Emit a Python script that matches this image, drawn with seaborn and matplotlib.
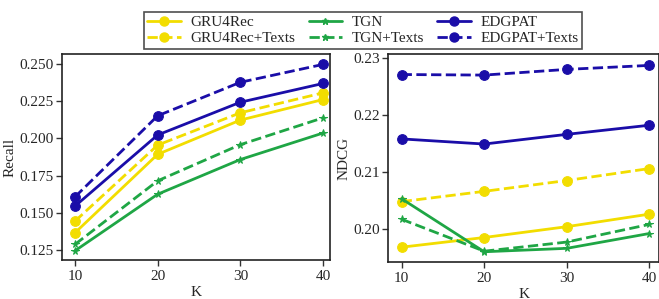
import matplotlib
matplotlib.use("Agg")
import matplotlib.pyplot as plt
import seaborn as sns
import pandas as pd
from matplotlib.lines import Line2D

sns.set_style("white")
plt.rcParams['font.family'] = ['Liberation Serif', 'DejaVu Serif']

K = [10, 20, 30, 40]
series_names = ["GRU4Rec", "GRU4Rec+Texts", "TGN", "TGN+Texts", "EDGPAT", "EDGPAT+Texts"]

recall_gru4rec = [0.1366, 0.1893, 0.2123, 0.2261]
recall_gru4rec_texts = [0.1444, 0.1955, 0.2172, 0.2306]
recall_tgn = [0.1245, 0.1625, 0.1858, 0.2036]
recall_tgn_texts = [0.1288, 0.1715, 0.1958, 0.2138]
recall_edgpat = [0.1545, 0.2023, 0.2243, 0.2369]
recall_edgpat_texts = [0.1607, 0.2152, 0.2377, 0.2497]

ndcg_gru4rec = [0.1968, 0.1985, 0.2004, 0.2026]
ndcg_gru4rec_texts = [0.2048, 0.2066, 0.2085, 0.2106]
ndcg_tgn = [0.2053, 0.1960, 0.1966, 0.1992]
ndcg_tgn_texts = [0.2017, 0.1961, 0.1977, 0.2008]
ndcg_edgpat = [0.2158, 0.2149, 0.2166, 0.2182]
ndcg_edgpat_texts = [0.2271, 0.2270, 0.2280, 0.2287]

recall_ticks = [0.125, 0.150, 0.175, 0.200, 0.225, 0.250]
ndcg_ticks = [0.20, 0.21, 0.22, 0.23]

recall = [recall_gru4rec, recall_gru4rec_texts, recall_tgn, recall_tgn_texts, recall_edgpat, recall_edgpat_texts]
ndcg = [ndcg_gru4rec, ndcg_gru4rec_texts, ndcg_tgn, ndcg_tgn_texts, ndcg_edgpat, ndcg_edgpat_texts]

YEL = "#f2dd00"
GRN = "#1fa645"
BLU = "#1a0da8"
colors = [YEL, YEL, GRN, GRN, BLU, BLU]
styles = ["-", "--", "-", "--", "-", "--"]
markers = ["o", "o", "*", "*", "o", "o"]
msizes = [7, 7, 5.5, 5.5, 7, 7]

fig = plt.figure(figsize=(6.59, 2.99), dpi=100)
ax1 = fig.add_axes([0.0941, 0.1304, 0.4067, 0.689])
ax2 = fig.add_axes([0.5888, 0.1237, 0.4115, 0.6957])

def draw(ax, data):
    for name, vals, c, ls, m, ms in zip(series_names, data, colors, styles, markers, msizes):
        df = pd.DataFrame({"K": K, "v": vals})
        sns.lineplot(data=df, x="K", y="v", ax=ax, color=c, linestyle=ls, marker=m,
                     markersize=ms, markeredgecolor=c, linewidth=2, legend=False,
                     dashes=False)
        ax.lines[-1].set_linestyle(ls)

draw(ax1, recall)
draw(ax2, ndcg)

ax1.set_xlim(8.43, 40.85)
ax1.set_ylim(0.1183, 0.2567)
ax1.set_yticks(recall_ticks)
ax1.set_yticklabels([f"{t:.3f}" for t in recall_ticks])
ax1.set_ylabel("Recall", fontsize=11, labelpad=2)

ax2.set_xlim(8.35, 41.2)
ax2.set_ylim(0.1942, 0.2307)
ax2.set_yticks(ndcg_ticks)
ax2.set_yticklabels([f"{t:.2f}" for t in ndcg_ticks])
ax2.set_ylabel("NDCG", fontsize=11, labelpad=2)

for ax in (ax1, ax2):
    ax.set_xticks(K)
    ax.set_xlabel("K", fontsize=11, labelpad=1.5)
    ax.tick_params(axis="both", which="major", labelsize=11, direction="out",
                   length=4.5, width=1, color="#333333", bottom=True, left=True, pad=1.5)
    ax.tick_params(axis="x", pad=3)
    for s in ax.spines.values():
        s.set_color("#222222")
        s.set_linewidth(1.2)
    ax.grid(False)

handles = [Line2D([0], [0], color=c, linestyle=ls, marker=m, markersize=ms - 0.5, linewidth=2,
                  markeredgecolor=c)
           for c, ls, m, ms in zip(colors, styles, markers, msizes)]
leg = fig.legend(handles, series_names, loc="upper center", ncol=3,
                 bbox_to_anchor=(0.5505, 0.959), fontsize=11, frameon=True, fancybox=False,
                 edgecolor="#222222", handlelength=2.2, columnspacing=0.9,
                 labelspacing=0.15, borderpad=0.22, handletextpad=0.6, borderaxespad=0)
leg.get_frame().set_linewidth(1.2)

fig.savefig("out.png", dpi=100)
